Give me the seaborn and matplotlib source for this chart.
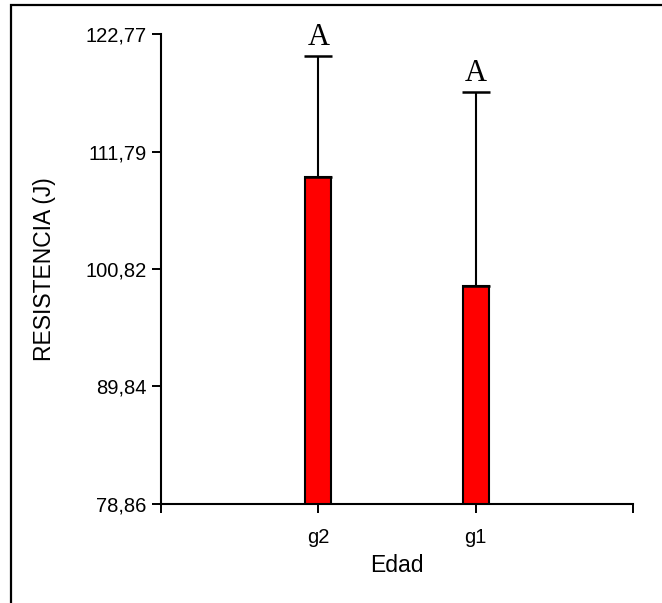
import matplotlib
matplotlib.use("Agg")
import matplotlib.pyplot as plt
from matplotlib.patches import Rectangle
import seaborn as sns
import pandas as pd

# Data
grupos = ["g2", "g1"]
medias = [109.39, 99.26]
error_sup = [11.34, 18.13]
letras = ["A", "A"]
y_ticks = [78.86, 89.84, 100.82, 111.79, 122.77]
y_tick_labels = ["78,86", "89,84", "100,82", "111,79", "122,77"]

sns.set_style("white")
plt.rcParams["font.family"] = ["Liberation Sans", "DejaVu Sans"]
plt.rcParams.update({"text.color": "black", "axes.labelcolor": "black",
                     "xtick.color": "black", "ytick.color": "black"})

df = pd.DataFrame({"Edad": grupos, "Resistencia": medias})

fig = plt.figure(figsize=(6.62, 6.03), dpi=100)
ax = fig.add_axes([161 / 662, 1 - 504 / 603, 472 / 662, 470 / 603])

sns.barplot(data=df, x="Edad", y="Resistencia", order=grupos, color="#ff0000",
            saturation=1, width=0.165, edgecolor="black", linewidth=1.5,
            errorbar=None, ax=ax)

# upper error bars only
xs = list(range(len(grupos)))
ax.errorbar(xs, medias, yerr=[[0] * len(grupos), error_sup], fmt="none",
            ecolor="black", elinewidth=1.5, capsize=10, capthick=1.8, zorder=1)

# significance letters above the caps
for x, m, e, l in zip(xs, medias, error_sup, letras):
    ax.annotate(l, xy=(x, m + e), xytext=(0, 7.5), textcoords="offset points",
                ha="center", va="baseline", fontsize=22,
                family=["Liberation Serif", "DejaVu Serif"], color="black")

ax.set_ylim(y_ticks[0], y_ticks[-1])
ax.set_yticks(y_ticks)
ax.set_yticklabels(y_tick_labels, fontsize=14.5, color="black")
ax.set_xlim(-1, 2)
ax.set_xticks([-1, 0, 1, 2])
ax.set_xticklabels([""] + grupos + [""], fontsize=14.5, color="black")

ax.tick_params(axis="both", direction="out", length=6.5, width=1.4,
               colors="black", labelcolor="black", left=True, bottom=True)
ax.tick_params(axis="y", pad=4)
ax.tick_params(axis="x", pad=11)

for s in ["top", "right"]:
    ax.spines[s].set_visible(False)
for s in ["left", "bottom"]:
    ax.spines[s].set_color("black")
    ax.spines[s].set_linewidth(1.5)

ax.set_xlabel("Edad", fontsize=16.5, va="center", color="black")
ax.set_ylabel("RESISTENCIA (J)", fontsize=16.5, va="center", color="black")
ax.xaxis.set_label_coords(0.5, -0.13)
ax.yaxis.set_label_coords(-0.246, 0.5)

# outer frame
fig.patches.append(Rectangle((11 / 662, -0.5), 2, 0.5 + 1 - 4.5 / 603,
                             transform=fig.transFigure, fill=False,
                             edgecolor="black", linewidth=1.6, clip_on=False))

fig.savefig("out.png", dpi=100, facecolor="white")
